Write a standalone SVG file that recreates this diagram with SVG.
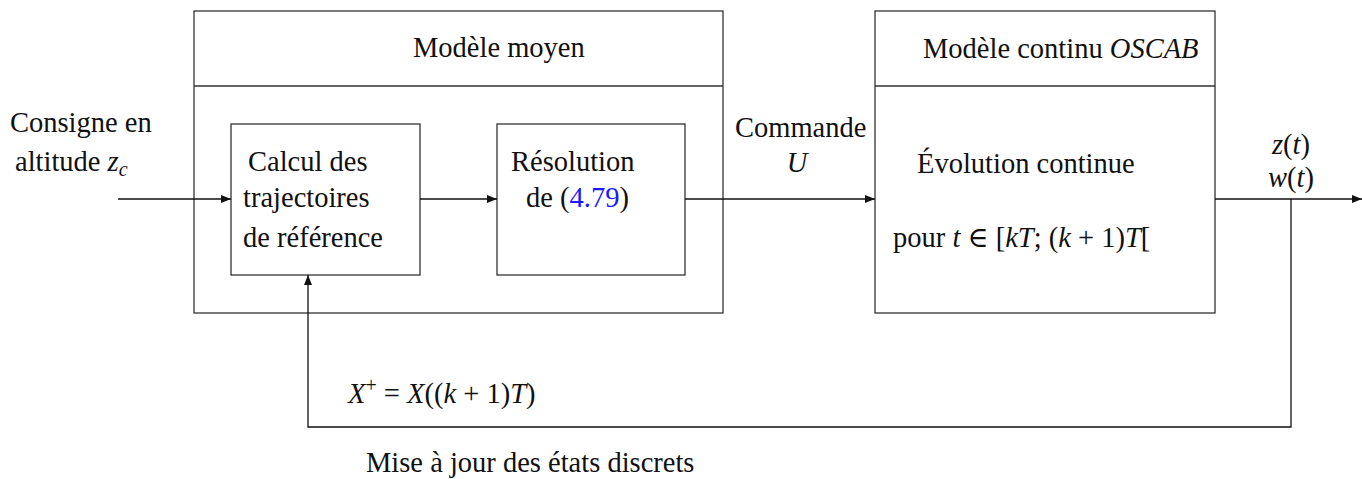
<svg xmlns="http://www.w3.org/2000/svg" width="1362" height="479" viewBox="0 0 1362 479">
<style>
text{font-family:"Liberation Serif","DejaVu Serif",serif;font-size:28.5px;fill:#111}
.i{font-style:italic}
.box{fill:none;stroke:#333;stroke-width:1.3}
.ln{fill:none;stroke:#111;stroke-width:1.3}
.blue{fill:#1a1aff}
</style>
<defs>
<marker id="ah" viewBox="0 0 10 10" refX="10" refY="5" markerWidth="10" markerHeight="10" markerUnits="userSpaceOnUse" orient="auto">
<path d="M0,1 L10,5 L0,9 Z" fill="#111"/>
</marker>
</defs>
<g id="modele-moyen">
<rect class="box" x="194" y="11" width="529" height="302"/>
<line class="box" x1="194" y1="86" x2="723" y2="86"/>
<text x="413" y="57">Modèle moyen</text>
</g>
<g id="calcul">
<rect class="box" x="231" y="124" width="189" height="151"/>
<text x="248" y="171">Calcul des</text>
<text x="243" y="207">trajectoires</text>
<text x="243" y="247">de référence</text>
</g>
<g id="resolution">
<rect class="box" x="497" y="124" width="188" height="151"/>
<text x="511" y="171">Résolution</text>
<text x="526" y="207">de (<tspan class="blue">4.79</tspan>)</text>
</g>
<g id="modele-continu">
<rect class="box" x="875" y="11" width="340" height="302"/>
<line class="box" x1="875" y1="86" x2="1215" y2="86"/>
<text x="923" y="58">Modèle continu <tspan class="i">OSCAB</tspan></text>
<text x="917" y="173">Évolution continue</text>
<text x="893" y="247">pour <tspan class="i">t</tspan> ∈ [<tspan class="i">kT</tspan>; (<tspan class="i">k</tspan> + 1)<tspan class="i">T</tspan>[</text>
</g>
<g id="labels">
<text x="10" y="132">Consigne en</text>
<text x="15" y="171">altitude <tspan class="i">z</tspan><tspan class="i" font-size="20" dy="5">c</tspan></text>
<text x="735" y="137">Commande</text>
<text x="797" y="172" class="i" text-anchor="middle">U</text>
<text x="1291" y="154" text-anchor="middle"><tspan class="i">z</tspan>(<tspan class="i">t</tspan>)</text>
<text x="1291" y="187" text-anchor="middle"><tspan class="i">w</tspan>(<tspan class="i">t</tspan>)</text>
<text x="348" y="403"><tspan class="i">X</tspan><tspan font-size="20" dy="-11">+</tspan><tspan dy="11"> = </tspan><tspan class="i">X</tspan>((<tspan class="i">k</tspan> + 1)<tspan class="i">T</tspan>)</text>
<text x="366" y="472">Mise à jour des états discrets</text>
</g>
<g id="connectors">
<line class="ln" x1="118" y1="199" x2="231" y2="199" marker-end="url(#ah)"/>
<line class="ln" x1="420" y1="199" x2="497" y2="199" marker-end="url(#ah)"/>
<line class="ln" x1="685" y1="199" x2="875" y2="199" marker-end="url(#ah)"/>
<line class="ln" x1="1215" y1="199" x2="1362" y2="199" marker-end="url(#ah)"/>
<polyline class="ln" points="1291,199 1291,427 308,427 308,275" marker-end="url(#ah)"/>
</g>
</svg>
